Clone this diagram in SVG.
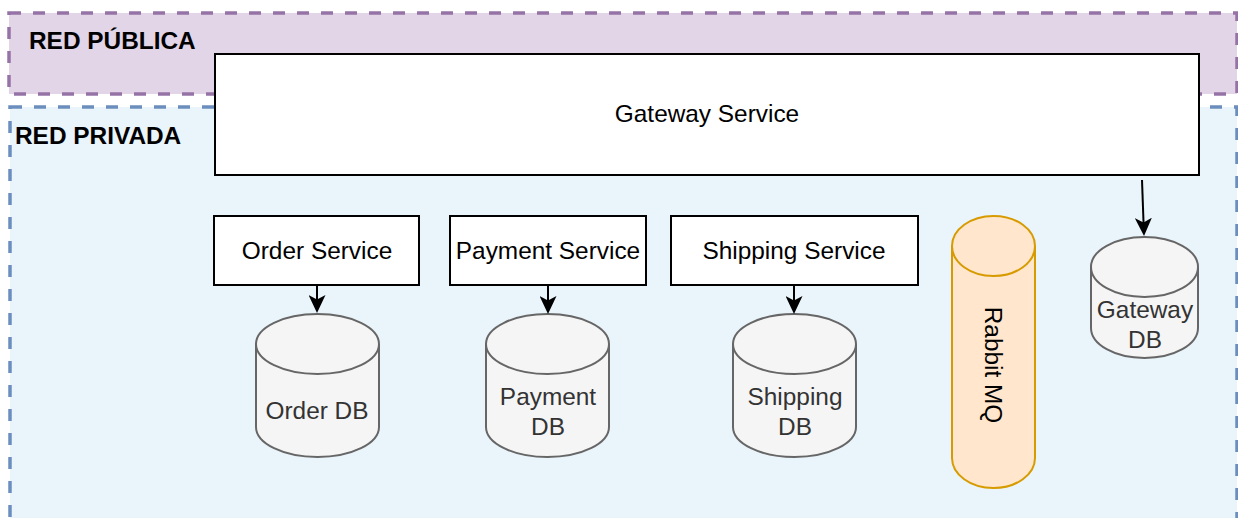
<svg xmlns="http://www.w3.org/2000/svg" width="1238" height="518" viewBox="0 0 1238 518">
  <style>
    .zone-pub { fill: #e1d5e7; stroke: #9673a6; stroke-width: 3.5; stroke-dasharray: 12 12; }
    .zone-priv { fill: #eaf4fb; stroke: #6c8ebf; stroke-width: 3.5; stroke-dasharray: 12 12; }
    .zone-label { font-family: "Liberation Sans", Arial, sans-serif; font-size: 24.4px; font-weight: bold; fill: #000; }
    .box { fill: #ffffff; stroke: #000000; stroke-width: 2; }
    .box-text { font-family: "Liberation Sans", Arial, sans-serif; font-size: 24.4px; fill: #000; text-anchor: middle; }
    .db { fill: #f5f5f5; stroke: #666666; stroke-width: 2; }
    .db-text { font-family: "Liberation Sans", Arial, sans-serif; font-size: 24.4px; fill: #333333; text-anchor: middle; }
    .mq { fill: #ffe6cc; stroke: #d79b00; stroke-width: 2; }
    .edge { stroke: #000; stroke-width: 2; fill: none; }
  </style>
  <defs>
    <marker id="arrow" markerUnits="userSpaceOnUse" viewBox="0 0 18 17" refX="12" refY="8.5" markerWidth="18" markerHeight="17" orient="auto">
      <path d="M18 8.5 L0 0 L4.5 8.5 L0 17 Z" fill="#000"/>
    </marker>
  </defs>

  <rect width="1238" height="518" fill="#ffffff"/>

  <g id="zone-public">
    <rect class="zone-pub" x="9" y="13" width="1228" height="81"/>
    <text class="zone-label" x="29" y="49">RED PÚBLICA</text>
  </g>

  <g id="zone-private">
    <rect class="zone-priv" x="10" y="107" width="1227" height="430"/>
    <text class="zone-label" x="15" y="144">RED PRIVADA</text>
  </g>

  <g id="gateway-service">
    <rect class="box" x="215" y="54" width="984" height="121"/>
    <text class="box-text" x="707" y="122">Gateway Service</text>
  </g>

  <g id="order-service">
    <rect class="box" x="214" y="216" width="205" height="69"/>
    <text class="box-text" x="317" y="259">Order Service</text>
  </g>

  <g id="payment-service">
    <rect class="box" x="450" y="216" width="196" height="69"/>
    <text class="box-text" x="548" y="259">Payment Service</text>
  </g>

  <g id="shipping-service">
    <rect class="box" x="671" y="216" width="247" height="69"/>
    <text class="box-text" x="794" y="259">Shipping Service</text>
  </g>

  <g id="order-db">
    <path class="db" d="M256 344 A61.5 30 0 0 1 379 344 V427 A61.5 30 0 0 1 256 427 Z"/>
    <path class="db" d="M256 344 A61.5 30 0 0 0 379 344" fill="none"/>
    <text class="db-text" x="317" y="419">Order DB</text>
  </g>

  <g id="payment-db">
    <path class="db" d="M486 344 A61.5 30 0 0 1 609 344 V427 A61.5 30 0 0 1 486 427 Z"/>
    <path class="db" d="M486 344 A61.5 30 0 0 0 609 344" fill="none"/>
    <text class="db-text" x="548" y="405">Payment</text>
    <text class="db-text" x="548" y="435">DB</text>
  </g>

  <g id="shipping-db">
    <path class="db" d="M733 344 A61.5 30 0 0 1 856 344 V427 A61.5 30 0 0 1 733 427 Z"/>
    <path class="db" d="M733 344 A61.5 30 0 0 0 856 344" fill="none"/>
    <text class="db-text" x="795" y="405">Shipping</text>
    <text class="db-text" x="795" y="435">DB</text>
  </g>

  <g id="rabbit-mq">
    <path class="mq" d="M952 246 A41.5 30 0 0 1 1035 246 V458 A41.5 30 0 0 1 952 458 Z"/>
    <path class="mq" d="M952 246 A41.5 30 0 0 0 1035 246" fill="none"/>
    <text class="box-text" x="993" y="365" dominant-baseline="central" transform="rotate(90 993 365)">Rabbit MQ</text>
  </g>

  <g id="gateway-db">
    <path class="db" d="M1091 267 A53.5 30 0 0 1 1198 267 V328 A53.5 30 0 0 1 1091 328 Z"/>
    <path class="db" d="M1091 267 A53.5 30 0 0 0 1198 267" fill="none"/>
    <text class="db-text" x="1145" y="318">Gateway</text>
    <text class="db-text" x="1145" y="348">DB</text>
  </g>

  <g id="connectors">
    <line class="edge" x1="317" y1="285" x2="317" y2="307" marker-end="url(#arrow)"/>
    <line class="edge" x1="548" y1="285" x2="548" y2="308" marker-end="url(#arrow)"/>
    <line class="edge" x1="794" y1="285" x2="794" y2="308" marker-end="url(#arrow)"/>
    <line class="edge" x1="1142" y1="180" x2="1143.8" y2="230" marker-end="url(#arrow)"/>
  </g>
</svg>
